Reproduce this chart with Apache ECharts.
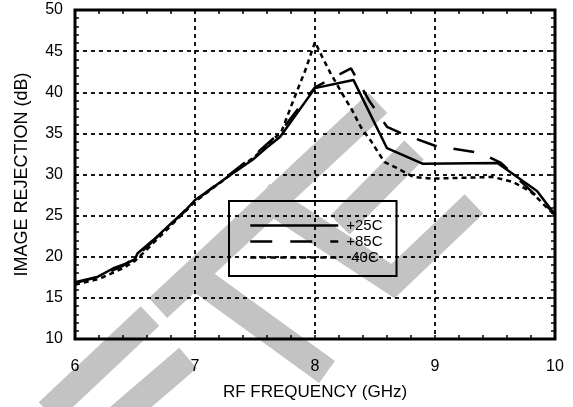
<!DOCTYPE html>
<html><head><meta charset="utf-8">
<script src="https://cdn.jsdelivr.net/npm/echarts@6/dist/echarts.min.js"></script>
<style>html,body{margin:0;padding:0;background:#fff}#c{width:573px;height:407px}</style>
</head><body><div id="c"></div>
<script>
// ---- data ----
const seriesNames = ['+25C', '+85C', '-40C'];

const freq25 = [6.0, 6.18, 6.32, 6.43, 6.5, 6.52, 6.65, 6.79, 6.9, 7.0, 7.08, 7.32, 7.48, 7.6, 7.71, 8.0, 8.32, 8.6, 8.9, 9.52, 9.85, 10.0];
const val25  = [16.8, 17.5, 18.6, 19.2, 19.7, 20.4, 22.0, 23.9, 25.3, 26.9, 27.7, 30.2, 31.8, 33.3, 34.6, 40.5, 41.5, 33.2, 31.3, 31.4, 28.0, 25.1];

const freq85 = [6.0, 6.2, 6.4, 6.5, 6.6, 6.8, 7.0, 7.2, 7.5, 7.7, 8.0, 8.3, 8.45, 8.6, 8.72, 9.0, 9.38, 9.55, 9.8, 10.0];
const val85  = [16.9, 17.6, 18.9, 19.9, 21.2, 24.0, 26.8, 29.0, 32.4, 35.0, 40.6, 42.9, 39.0, 35.8, 35.0, 33.5, 32.6, 31.4, 28.0, 25.2];

const freq40 = [6.0, 6.2, 6.4, 6.5, 6.6, 6.8, 7.0, 7.2, 7.5, 7.72, 7.83, 7.92, 8.0, 8.06, 8.13, 8.22, 8.31, 8.38, 8.47, 8.53, 8.58, 8.68, 8.82, 8.98, 9.24, 9.48, 9.65, 9.8, 10.0];
const val40  = [16.6, 17.3, 18.6, 19.5, 20.9, 23.8, 26.7, 28.9, 32.2, 35.2, 39.4, 42.7, 46.1, 44.3, 42.3, 40.0, 37.8, 35.8, 34.0, 32.6, 31.5, 30.8, 29.7, 29.5, 29.6, 29.7, 29.1, 27.9, 25.0];

const xMin = 6, xMax = 10, xStep = 1;
const yMin = 10, yMax = 50, yStep = 5;
const xTitle = 'RF FREQUENCY (GHz)';
const yTitle = 'IMAGE REJECTION (dB)';

// ---- chart ----
const FONT = '"Liberation Sans", Arial, Helvetica, sans-serif';
const pair = (xs, ys) => xs.map((x, i) => [x, ys[i]]);
const tickStyle = {color: '#000', width: 1.5};
const gridStyle = {color: '#000', type: [4, 4], width: 1.8};
const dashTypes = ['solid', [21, 17], [5, 4]];
const legendDash = ['solid', [22, 18], [6, 4]];

function xAx(pos, main) {
  return {
    type: 'value', min: xMin, max: xMax, interval: xStep, position: pos,
    axisLine: {show: false},
    axisTick: {show: true, inside: true, length: 4, lineStyle: tickStyle},
    minorTick: {show: true, splitNumber: 5, length: 4, lineStyle: tickStyle},
    axisLabel: {show: main, color: '#000', fontSize: 16, fontFamily: FONT, margin: 20},
    splitLine: {show: main, lineStyle: gridStyle},
    name: main ? xTitle : '', nameLocation: 'middle', nameGap: 45,
    nameTextStyle: {color: '#000', fontSize: 17, fontFamily: FONT}
  };
}
function yAx(pos, main) {
  return {
    type: 'value', min: yMin, max: yMax, interval: yStep, position: pos,
    axisLine: {show: false},
    axisTick: {show: true, inside: true, length: 4, lineStyle: tickStyle},
    minorTick: {show: true, splitNumber: 5, length: 4, lineStyle: tickStyle},
    axisLabel: {show: main, color: '#000', fontSize: 16, fontFamily: FONT, margin: 12},
    splitLine: {show: main, lineStyle: gridStyle},
    name: main ? yTitle : '', nameLocation: 'middle', nameGap: 44, nameRotate: 90,
    nameTextStyle: {color: '#000', fontSize: 18, fontFamily: FONT}
  };
}

const wmColor = '#c3c3c3';
const wmWidth = 27;
const wm = [
  [[48, 412], [150, 316]],
  [[118, 418], [188, 358]],
  [[158, 308], [378, 103]],
  [[203, 282], [327, 372]],
  [[262, 195], [393, 281], [474, 204]],
  [[340, 225], [414, 150]]
].map(pts => ({
  type: 'polyline', z: -10, silent: true,
  shape: {points: pts},
  style: {stroke: wmColor, lineWidth: wmWidth, lineCap: 'butt', lineJoin: 'miter', fill: null}
}));

const chart = echarts.init(document.getElementById('c'), null, {renderer: 'canvas'});
chart.setOption({
  animation: false,
  backgroundColor: '#fff',
  graphic: wm,
  grid: {left: 75, right: 18, top: 10, bottom: 68, show: true, borderColor: '#000', borderWidth: 3, backgroundColor: 'transparent', containLabel: false},
  legend: {
    data: seriesNames.map((n, i) => ({name: n, lineStyle: {type: legendDash[i], width: 2.5, color: '#000', opacity: 1}})),
    orient: 'vertical', left: 229, top: 201,
    itemWidth: 88, itemHeight: 14, itemGap: 1,
    padding: [17, 14, 11, 20],
    borderColor: '#000', borderWidth: 2, backgroundColor: 'transparent',
    itemStyle: {opacity: 0},
    lineStyle: {width: 2.5, color: '#000', opacity: 1},
    textStyle: {color: '#000', fontSize: 15, fontFamily: FONT, lineHeight: 14, padding: [0, 0, 0, 3]}
  },
  xAxis: [xAx('bottom', true), xAx('top', false)],
  yAxis: [yAx('left', true), yAx('right', false)],
  series: [
    {name: seriesNames[0], type: 'line', data: pair(freq25, val25), symbol: 'none', z: 5,
     lineStyle: {color: '#000', width: 2.5, type: dashTypes[0]}, itemStyle: {color: '#000'}},
    {name: seriesNames[1], type: 'line', data: pair(freq85, val85), symbol: 'none', z: 4,
     lineStyle: {color: '#000', width: 2.5, type: dashTypes[1]}, itemStyle: {color: '#000'}},
    {name: seriesNames[2], type: 'line', data: pair(freq40, val40), symbol: 'none', z: 3,
     lineStyle: {color: '#000', width: 2.5, type: dashTypes[2]}, itemStyle: {color: '#000'}}
  ]
});
</script></body></html>
